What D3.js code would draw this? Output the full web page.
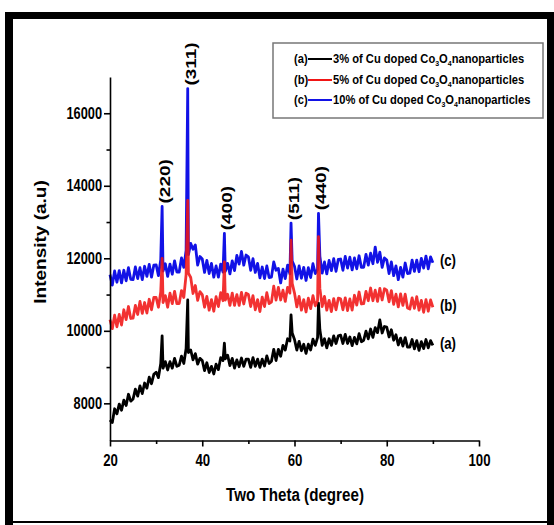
<!DOCTYPE html>
<html>
<head>
<style>
  body {margin: 0; background: #fff;}
  * {font-family: "Liberation Sans", Arial, sans-serif;}
</style>
<script src="https://d3js.org/d3.v7.min.js"></script>
</head>
<body>
<div id="chart"></div>
<script>
// two theta grid (degree)
const twoTheta = [20, 20.5, 21, 21.5, 22, 22.5, 23, 23.5, 24, 24.5,
  25, 25.5, 26, 26.5, 27, 27.5, 28, 28.5, 29, 29.5,
  30, 30.5, 31, 31.5, 32, 32.5, 33, 33.5, 34, 34.5,
  35, 35.5, 36, 36.5, 37, 37.5, 38, 38.5, 39, 39.5,
  40, 40.5, 41, 41.5, 42, 42.5, 43, 43.5, 44, 44.5,
  45, 45.5, 46, 46.5, 47, 47.5, 48, 48.5, 49, 49.5,
  50, 50.5, 51, 51.5, 52, 52.5, 53, 53.5, 54, 54.5,
  55, 55.5, 56, 56.5, 57, 57.5, 58, 58.5, 59, 59.5,
  60, 60.5, 61, 61.5, 62, 62.5, 63, 63.5, 64, 64.5,
  65, 65.5, 66, 66.5, 67, 67.5, 68, 68.5, 69, 69.5,
  70, 70.5, 71, 71.5, 72, 72.5, 73, 73.5, 74, 74.5,
  75, 75.5, 76, 76.5, 77, 77.5, 78, 78.5, 79, 79.5,
  80, 80.5, 81, 81.5, 82, 82.5, 83, 83.5, 84, 84.5,
  85, 85.5, 86, 86.5, 87, 87.5, 88, 88.5, 89, 89.5,
  90]

// (a) 3% Cu
const sampleA = [7540, 7470, 7850, 7710, 7980, 7810, 8090, 7940, 8250, 8060,
  8120, 8390, 8200, 8480, 8270, 8560, 8420, 8720, 8540, 8800,
  8860, 8710, 9100, 8970, 9150, 8920, 9150, 8970, 9240, 9020,
  9050, 9300, 9100, 9510, 9400, 9470, 9200, 9370, 9080, 9240,
  9180, 8900, 9120, 8850, 9020, 8810, 9080, 8930, 9260, 9180,
  9230, 9330, 9040, 9240, 8970, 9200, 9010, 9250, 9020, 9220,
  9220, 8990, 9260, 9020, 9220, 8990, 9220, 9030, 9310, 9100,
  9160, 9490, 9180, 9490, 9300, 9600, 9470, 9780, 9720, 9940,
  9760, 9470, 9710, 9450, 9630, 9380, 9630, 9470, 9770, 9600,
  9810, 10030, 9600, 9780, 9530, 9780, 9600, 9860, 9650, 9860,
  9880, 9650, 9900, 9650, 9830, 9590, 9820, 9640, 9920, 9700,
  9740, 9990, 9780, 10050, 9820, 10090, 9950, 10300, 9940, 10120,
  10100, 9830, 10030, 9740, 9890, 9610, 9800, 9580, 9810, 9550,
  9550, 9760, 9500, 9730, 9460, 9700, 9510, 9760, 9530, 9730,
  9600]

// (b) 5% Cu
const sampleB = [10310, 10060, 10430, 10110, 10450, 10160, 10580, 10310, 10670, 10340,
  10350, 10700, 10450, 10810, 10480, 10780, 10490, 10870, 10580, 10920,
  10920, 10650, 11070, 10780, 10970, 10650, 11040, 10750, 11090, 10750,
  10750, 11110, 10920, 11550, 11590, 11470, 11030, 11250, 10840, 11080,
  11000, 10650, 10950, 10570, 10860, 10540, 10940, 10670, 11050, 10830,
  10850, 11010, 10700, 11040, 10700, 11000, 10700, 11060, 10740, 11040,
  11000, 10670, 10970, 10580, 10860, 10530, 10930, 10670, 11050, 10750,
  10790, 11230, 10850, 11200, 10850, 11120, 10810, 11200, 11040, 11310,
  11040, 10660, 10950, 10570, 10860, 10520, 10900, 10610, 10970, 10690,
  10830, 11170, 10670, 10950, 10570, 10840, 10530, 10890, 10580, 10900,
  10880, 10580, 10910, 10560, 10880, 10570, 10980, 10710, 11070, 10740,
  10750, 11090, 10830, 11180, 10830, 11120, 10810, 11170, 10850, 11160,
  11120, 10800, 11110, 10730, 11010, 10660, 11020, 10700, 11010, 10630,
  10600, 10910, 10620, 10940, 10570, 10840, 10510, 10860, 10540, 10850,
  10650]

// (c) 10% Cu
const sampleC = [11550, 11260, 11650, 11340, 11660, 11320, 11670, 11380, 11740, 11420,
  11410, 11760, 11440, 11740, 11410, 11780, 11500, 11830, 11480, 11810,
  11820, 11520, 11960, 11650, 11850, 11500, 11840, 11560, 11930, 11620,
  11620, 12010, 11750, 12220, 12100, 12410, 12250, 12370, 11810, 12050,
  11980, 11610, 11940, 11580, 11860, 11480, 11790, 11480, 11840, 11620,
  11640, 11860, 11570, 11930, 11660, 12080, 11840, 12190, 11810, 12090,
  12040, 11670, 11990, 11610, 11860, 11460, 11760, 11440, 11790, 11470,
  11480, 11900, 11670, 11720, 11320, 11700, 11440, 11810, 11570, 11920,
  11780, 11430, 11790, 11450, 11750, 11390, 11740, 11470, 11850, 11580,
  11690, 12060, 11590, 11900, 11570, 11940, 11660, 11990, 11640, 11970,
  11980, 11670, 12050, 11730, 12030, 11680, 12010, 11710, 12070, 11750,
  11750, 12110, 11810, 12140, 11850, 12310, 11890, 12170, 11750, 12010,
  11950, 11580, 11900, 11520, 11790, 11410, 11750, 11480, 11870, 11580,
  11590, 11950, 11640, 11950, 11630, 12000, 11730, 12060, 11710, 12040,
  11880]

// diffraction peaks
const peakTheta = [31.3, 36.85, 44.8, 59.25, 65.2]
const peakLabels = ["(220)", "(311)", "(400)", "(511)", "(440)"]
const peakA = [9860, 10850, 9660, 10440, 10760]
const peakB = [12000, 13600, 11900, 12500, 12600]
const peakC = [13430, 16680, 12690, 12970, 13240]

const seriesTags = ["(a)", "(b)", "(c)"]
const legendNames = ["3% of Cu doped ", "5% of Cu doped ", "10% of Cu doped "]
const colors = ["#000000", "#f01515", "#1212e6"]

const xTicks = [20, 40, 60, 80, 100], xMinor = [30, 50, 70, 90]
const yTicks = [8000, 10000, 12000, 14000, 16000], yMinor = [9000, 11000, 13000, 15000]

var w = 554, h = 525

var svg = d3.select("#chart").append("svg")
  .attr("width", w).attr("height", h)
  .style("display", "block")

svg.append("rect").attr("width", w).attr("height", h).attr("fill", "#fff")

// black frame
svg.append("rect").attr("x", 5).attr("y", 12).attr("width", 8).attr("height", 513).attr("fill", "#000")
svg.append("rect").attr("x", 5).attr("y", 12).attr("width", 549).attr("height", 7).attr("fill", "#000")
svg.append("rect").attr("x", 547).attr("y", 12).attr("width", 7).attr("height", 513).attr("fill", "#000")
svg.append("rect").attr("x", 5).attr("y", 521).attr("width", 549).attr("height", 2).attr("fill", "#000")

var x = d3.scaleLinear().domain([20, 100]).range([110, 479])
var y = d3.scaleLinear().domain([6975, 17000]).range([440.5, 77])

function mergePeaks(vals, peaks) {
  return twoTheta.map((t, i) => [t, vals[i]])
    .concat(peakTheta.map((t, i) => [t, peaks[i]]))
    .sort((a, b) => a[0] - b[0])
}

var series = [mergePeaks(sampleA, peakA), mergePeaks(sampleB, peakB), mergePeaks(sampleC, peakC)]

var line = d3.line().x(d => x(d[0])).y(d => y(d[1]))

// draw a, c, then b so red shows inside the blue peaks
;[0, 2, 1].forEach(k => {
  svg.append("path")
    .datum(series[k])
    .attr("d", line)
    .attr("fill", "none")
    .attr("stroke", colors[k])
    .attr("stroke-width", 2.8)
    .attr("stroke-linejoin", "round")
    .attr("opacity", k == 1 ? 0.88 : 1)
})

// axes
function styleAxis(g) {
  g.select(".domain").attr("stroke-width", 1.6)
  g.selectAll(".tick line").attr("stroke-width", 1.6)
}

var gx = svg.append("g").attr("transform", "translate(0,440.5)")
  .call(d3.axisBottom(x).tickValues(xTicks).tickSize(6).tickSizeOuter(0))
  .call(styleAxis)
gx.selectAll("text")
  .attr("y", 14)
  .attr("font-size", 16.5).attr("font-weight", "bold").attr("fill", "#000")
  .attr("transform", "scale(0.8,1)")
svg.append("g").attr("transform", "translate(0,440.5)")
  .call(d3.axisBottom(x).tickValues(xMinor).tickSize(3.5).tickFormat("").tickSizeOuter(0))
  .call(styleAxis)
  .select(".domain").remove()

var gy = svg.append("g").attr("transform", "translate(110,0)")
  .call(d3.axisLeft(y).tickValues(yTicks).tickSize(6).tickSizeOuter(0).tickFormat(d3.format("d")))
  .call(styleAxis)
gy.selectAll("text")
  .attr("x", -10)
  .attr("font-size", 16).attr("font-weight", "bold").attr("fill", "#000")
  .attr("transform", "scale(0.8,1)")
svg.append("g").attr("transform", "translate(110,0)")
  .call(d3.axisLeft(y).tickValues(yMinor).tickSize(3.5).tickFormat("").tickSizeOuter(0))
  .call(styleAxis)
  .select(".domain").remove()

// axis titles
svg.append("text")
  .attr("transform", "translate(295,501) scale(0.82,1)")
  .attr("text-anchor", "middle")
  .attr("font-size", 18.5).attr("font-weight", "bold")
  .text("Two Theta (degree)")

svg.append("text")
  .attr("transform", "translate(41,242) rotate(-90) scale(1,0.82)")
  .attr("text-anchor", "middle")
  .attr("dy", "0.35em")
  .attr("font-size", 19).attr("font-weight", "bold")
  .text("Intensity (a.u)")

// peak labels, above the blue peaks
peakTheta.forEach((t, i) => {
  svg.append("text")
    .attr("transform", "translate(" + (x(t) + 2.5) + "," + (y(peakC[i]) - 3) + ") rotate(-90) scale(1,0.8)")
    .attr("text-anchor", "start")
    .attr("dy", "0.35em")
    .attr("font-size", 19).attr("font-weight", "bold")
    .text(peakLabels[i])
})

// series tags at the right end
series.forEach((s, k) => {
  var last = s[s.length - 1]
  svg.append("text")
    .attr("transform", "translate(" + (x(last[0]) + 7) + "," + (y(last[1]) - 2) + ") scale(0.8,1)")
    .attr("dy", "0.35em")
    .attr("font-size", 16.5).attr("font-weight", "bold")
    .text(seriesTags[k])
})

// legend
svg.append("rect")
  .attr("x", 273).attr("y", 43).attr("width", 270).attr("height", 75)
  .attr("fill", "#fff").attr("stroke", "#777").attr("stroke-width", 1.5)

var rowY = [59, 80, 100]
legendNames.forEach((name, k) => {
  var g = svg.append("g").attr("transform", "translate(294," + rowY[k] + ")")
  g.append("text")
    .attr("transform", "scale(0.93,1)")
    .attr("dy", "0.35em")
    .attr("font-size", 12).attr("font-weight", "bold")
    .text(seriesTags[k])
  g.append("line")
    .attr("x1", 14).attr("x2", 38).attr("y1", 0).attr("y2", 0)
    .attr("stroke", colors[k]).attr("stroke-width", 2)
  var tx = g.append("text")
    .attr("transform", "translate(39,0) scale(0.93,1)")
    .attr("dy", "0.35em")
    .attr("font-size", 12).attr("font-weight", "bold")
  tx.append("tspan").text(name + "Co")
  tx.append("tspan").attr("font-size", 7.5).attr("dy", 3).text("3")
  tx.append("tspan").attr("dy", -3).text("O")
  tx.append("tspan").attr("font-size", 7.5).attr("dy", 3).text("4")
  tx.append("tspan").attr("dy", -3).text("nanoparticles")
})
</script>
</body>
</html>
